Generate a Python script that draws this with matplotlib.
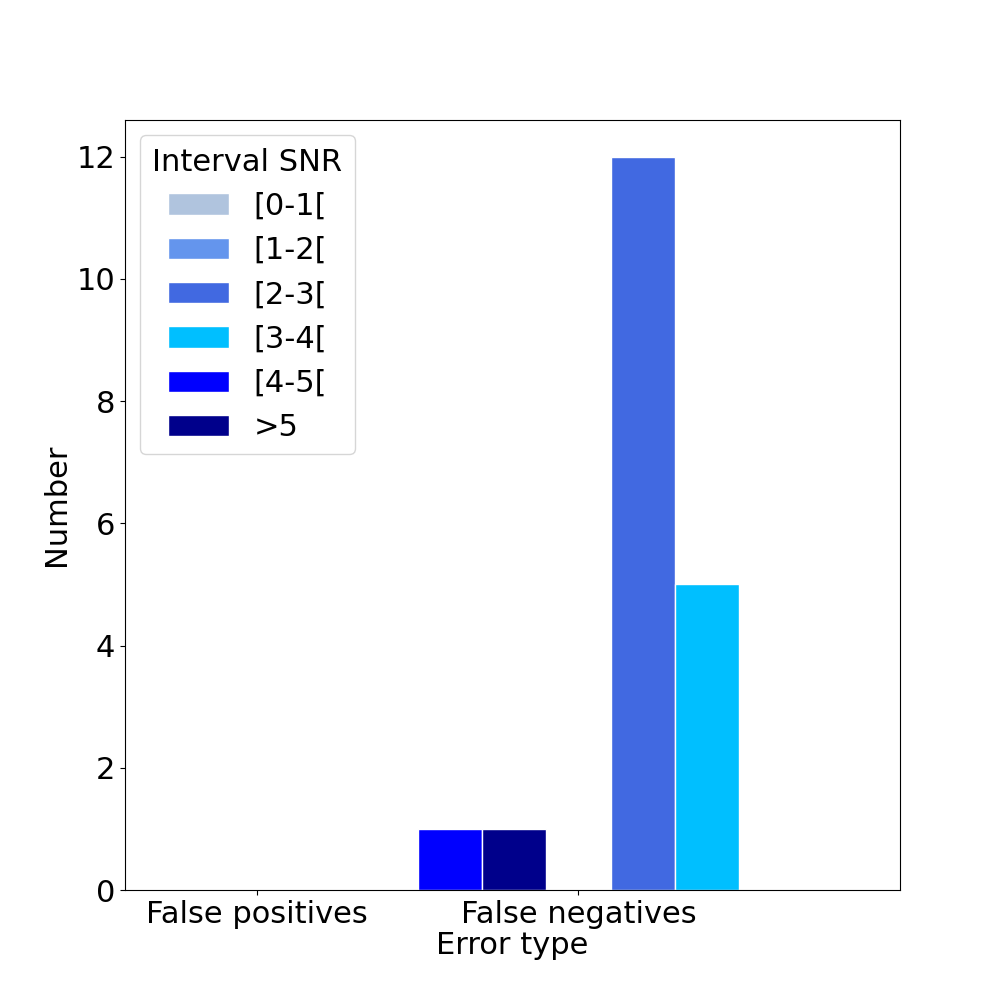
import numpy as np
import matplotlib.pyplot as plt

categories = ["False positives", "False negatives"]
intervals = ["[0-1[", "[1-2[", "[2-3[", "[3-4[", "[4-5[", ">5"]
values = {
    "[0-1[": [0, 0],
    "[1-2[": [0, 0],
    "[2-3[": [0, 12],
    "[3-4[": [0, 5],
    "[4-5[": [0, 1],
    ">5": [0, 1],
}
colors = ["lightsteelblue", "cornflowerblue", "royalblue", "deepskyblue", "blue", "darkblue"]
offsets = [0.0, 0.0, 0.2, 0.4, -0.4, -0.2]

plt.rcParams["font.size"] = 22
fig, ax = plt.subplots(figsize=(10, 10), dpi=100)
x = np.arange(len(categories))
for name, c, off in zip(intervals, colors, offsets):
    ax.bar(x + off, values[name], width=0.2, color=c, edgecolor="white", label=name)

ax.set_xticks(x)
ax.set_xticklabels(categories)
ax.set_xlim(-0.41, 2.0)
ax.set_ylim(0, 12.6)
ax.set_xlabel("Error type", labelpad=2)
ax.set_ylabel("Number")
ax.legend(title="Interval SNR", loc="upper left")
fig.savefig("out.png")
